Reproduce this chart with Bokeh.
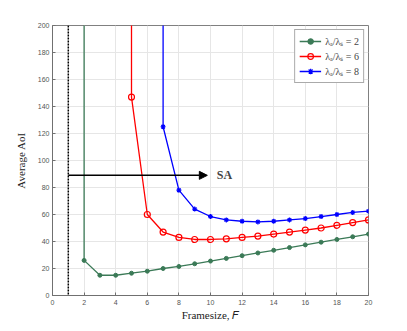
from bokeh.plotting import figure
from bokeh.models import Range1d, Arrow, NormalHead, Label, Span, Legend, LegendItem, FixedTicker
from bokeh.embed import file_html
from bokeh.resources import INLINE

# asymptote drawn as a very large value at the first feasible framesize
big = 1000

g_x = [2, 2, 3, 4, 5, 6, 7, 8, 9, 10, 11, 12, 13, 14, 15, 16, 17, 18, 19, 20]
g_y = [big, 26, 15, 15, 16.5, 18, 20, 21.5, 23.5, 25.5, 27.5, 29.5, 31.5, 33.5, 35.5, 37.5, 39.5, 41.5, 43.5, 45.5]

r_x = [5, 5, 6, 7, 8, 9, 10, 11, 12, 13, 14, 15, 16, 17, 18, 19, 20]
r_y = [big, 147, 60, 47, 43, 41.5, 41.5, 42, 43, 44, 45.5, 47, 48.5, 50, 52, 54, 56]

b_x = [7, 7, 8, 9, 10, 11, 12, 13, 14, 15, 16, 17, 18, 19, 20]
b_y = [big, 125, 78, 64, 58.5, 56, 55, 54.5, 55, 56, 57, 58.5, 60, 61.5, 62.5]

labels = ["λₐ/λₛ = 2", "λₐ/λₛ = 6", "λₐ/λₛ = 8"]
x_ticks = list(range(0, 21, 2))
y_ticks = list(range(0, 201, 20))

lower_bound_x = 1
sa_level = 89
sa_arrow_end = 9.8
sa_text_x = 10.4

p = figure(width=391, height=323, output_backend="svg", toolbar_location=None,
           x_range=Range1d(0, 20), y_range=Range1d(0, 200),
           min_border_left=52, min_border_right=23, min_border_top=25, min_border_bottom=28)
p.background_fill_color = "white"
p.outline_line_color = "#808080"
p.outline_line_width = 1

for ax in (p.xaxis[0], p.yaxis[0]):
    ax.axis_line_color = "#707070"
    ax.major_tick_line_color = "#707070"
    ax.minor_tick_line_color = None
    ax.major_tick_in = 3
    ax.major_tick_out = 0
    ax.major_label_text_font_size = "7px"
    ax.major_label_text_color = "#555555"
    ax.major_label_text_font = "Liberation Sans"
    ax.axis_label_text_font = "Liberation Serif"
    ax.axis_label_text_font_style = "normal"
    ax.axis_label_text_font_size = "11px"
    ax.axis_label_text_color = "#222222"

p.xaxis.ticker = FixedTicker(ticks=x_ticks)
p.yaxis.ticker = FixedTicker(ticks=y_ticks)
p.xaxis.axis_label = "Framesize, 𝐹"
p.yaxis.axis_label = "Average AoI"
p.xaxis.axis_label_standoff = 1
p.yaxis.axis_label_standoff = 8
p.xaxis.major_label_standoff = 4
p.yaxis.major_label_standoff = 3

p.grid.grid_line_color = "#e6e6e6"
p.grid.grid_line_width = 1

green = "#3b7a57"
red = "#ff0000"
blue = "#0000ff"

gl = p.line(g_x, g_y, color=green, line_width=1.3)
gs = p.scatter(g_x[1:], g_y[1:], marker="circle", size=4, color=green)
rl = p.line(r_x, r_y, color=red, line_width=1.3)
rs = p.scatter(r_x[1:], r_y[1:], marker="circle", size=6, line_color=red, fill_color=None, line_width=1.2)
bl = p.line(b_x, b_y, color=blue, line_width=1.3)
bs = p.scatter(b_x[1:], b_y[1:], marker="asterisk", size=5, line_color=blue, line_width=1.2)

p.add_layout(Span(location=lower_bound_x, dimension="height", line_color="black",
                  line_dash="2 1", line_width=1.5))

p.add_layout(Arrow(end=NormalHead(size=8, fill_color="black", line_color="black"),
                   x_start=lower_bound_x, y_start=sa_level, x_end=sa_arrow_end, y_end=sa_level,
                   line_color="black", line_width=1.5))
p.add_layout(Label(x=sa_text_x, y=sa_level, text="SA", text_font="Liberation Serif",
                   text_font_style="bold", text_font_size="12px", text_baseline="middle"))

legend = Legend(items=[LegendItem(label=labels[0], renderers=[gl, gs]),
                       LegendItem(label=labels[1], renderers=[rl, rs]),
                       LegendItem(label=labels[2], renderers=[bl, bs])],
                location="top_right")
legend.label_text_font = "Liberation Serif"
legend.label_text_font_size = "10px"
legend.glyph_width = 22
legend.glyph_height = 14
legend.spacing = 1
legend.padding = 4
legend.margin = 4
legend.label_standoff = 4
legend.border_line_color = "#555555"
legend.background_fill_alpha = 1
p.add_layout(legend)

open("out.html", "w").write(file_html(p, INLINE))
